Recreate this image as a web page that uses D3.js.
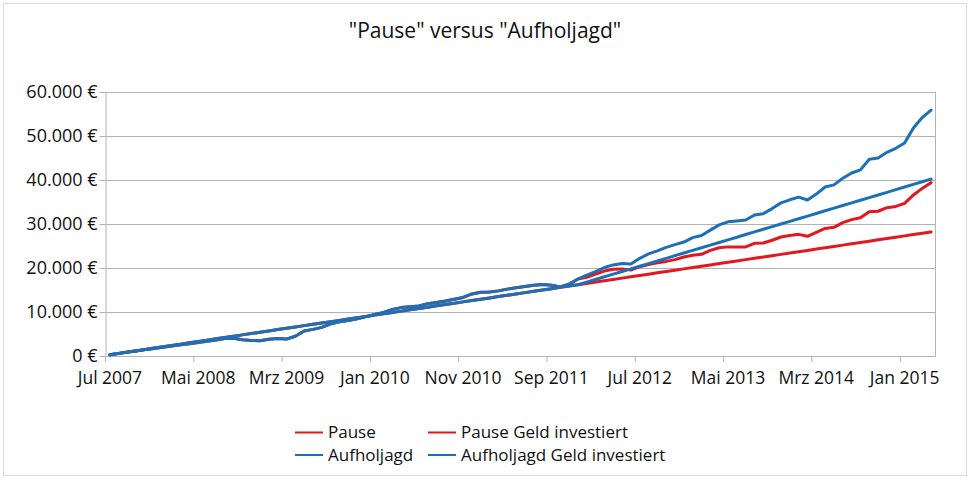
<!DOCTYPE html>
<html><head><meta charset="utf-8">
<script src="https://cdn.jsdelivr.net/npm/d3@7"></script>
<style>
body{margin:0;background:#fff}
svg{display:block}
text{font-family:"Open Sans","Noto Sans",sans-serif;fill:#111}
</style>
</head><body>
<svg id="chart" width="975" height="480"></svg>
<script>
// ---------- data ----------
const title = '"Pause" versus "Aufholjagd"';
const monthNames = ["Jan","Feb","Mrz","Apr","Mai","Jun","Jul","Aug","Sep","Okt","Nov","Dez"];
const startYear = 2007, startMonthIndex = 6, monthCount = 94;
const categories = d3.range(monthCount).map(i => {
  const m = startMonthIndex + i;
  return monthNames[m % 12] + " " + (startYear + Math.floor(m / 12));
});
const labelEvery = 10;

const pauseWert = [
  300,590,880,1160,1450,1720,2000,2250,2550,2800,
  3050,3350,3650,3950,4050,3700,3550,3480,3800,4000,
  3850,4500,5700,6050,6500,7300,7800,8050,8450,8950,
  9450,9900,10600,11000,11200,11350,11900,12150,12500,12900,
  13300,14100,14500,14550,14800,15200,15500,15800,16100,16250,
  16100,15700,16300,17500,17900,18600,19300,19700,19800,19550,
  20300,20800,21200,21500,21900,22500,22900,23100,24000,24600,
  24800,24800,24800,25600,25680,26300,27050,27400,27650,27200,
  28100,29000,29250,30300,31000,31400,32800,32900,33700,34000,
  34700,36600,38100,39400
];
const pauseInvestiert = [
  300,600,900,1200,1500,1800,2100,2400,2700,3000,
  3300,3600,3900,4200,4500,4800,5100,5400,5700,6000,
  6300,6600,6900,7200,7500,7800,8100,8400,8700,9000,
  9300,9600,9900,10200,10500,10800,11100,11400,11700,12000,
  12300,12600,12900,13200,13500,13800,14100,14400,14700,15000,
  15300,15600,15900,16200,16500,16800,17100,17400,17700,18000,
  18300,18600,18900,19200,19500,19800,20100,20400,20700,21000,
  21300,21600,21900,22200,22500,22800,23100,23400,23700,24000,
  24300,24600,24900,25200,25500,25800,26100,26400,26700,27000,
  27300,27600,27900,28200
];
const aufholjagdWert = [
  300,590,880,1160,1450,1720,2000,2250,2550,2800,
  3050,3350,3650,3950,4050,3700,3550,3480,3800,4000,
  3850,4500,5700,6050,6500,7300,7800,8050,8450,8950,
  9450,9900,10600,11000,11200,11350,11900,12150,12500,12900,
  13300,14100,14500,14550,14800,15200,15500,15800,16100,16250,
  16100,15700,16300,17500,18400,19200,20100,20700,21000,20900,
  22200,23200,23900,24700,25300,25900,26900,27400,28600,29800,
  30500,30700,30900,32050,32350,33500,34800,35500,36100,35450,
  36800,38400,38900,40400,41600,42300,44700,45000,46300,47200,
  48400,51800,54200,55900
];
const aufholjagdInvestiert = [
  300,600,900,1200,1500,1800,2100,2400,2700,3000,
  3300,3600,3900,4200,4500,4800,5100,5400,5700,6000,
  6300,6600,6900,7200,7500,7800,8100,8400,8700,9000,
  9300,9600,9900,10200,10500,10800,11100,11400,11700,12000,
  12300,12600,12900,13200,13500,13800,14100,14400,14700,15000,
  15300,15600,15900,16200,16800,17400,18000,18600,19200,19800,
  20400,21000,21600,22200,22800,23400,24000,24600,25200,25800,
  26400,27000,27600,28200,28800,29400,30000,30600,31200,31800,
  32400,33000,33600,34200,34800,35400,36000,36600,37200,37800,
  38400,39000,39600,40200
];
const yTicks = [0,10000,20000,30000,40000,50000,60000];

const seriesNames = ["Pause","Pause Geld investiert","Aufholjagd","Aufholjagd Geld investiert"];
const seriesColors = ["#e2171f","#e2171f","#1b70b7","#1b70b7"];
const seriesData = [pauseWert, pauseInvestiert, aufholjagdWert, aufholjagdInvestiert];

// ---------- layout ----------
const svg = d3.select("#chart");
const plotLeft = 105.5, plotRight = 935.5, plotTop = 92, plotBottom = 356;
const gridColor = "#b3b3b3";

svg.append("rect").attr("x",3.5).attr("y",3.5).attr("width",963).attr("height",472)
  .attr("fill","none").attr("stroke","#d9d9d9");

const x = d3.scaleBand().domain(categories).range([plotLeft, plotRight]).padding(0);
const y = d3.scaleLinear().domain([0, 60000]).range([plotBottom, plotTop]);

const fmt = v => d3.format(",")(v).replace(/,/g, ".") + " €";

// gridlines
svg.append("g").selectAll("line").data(yTicks).join("line")
  .attr("x1", plotLeft).attr("x2", plotRight)
  .attr("y1", d => Math.round(y(d)) + 0.5).attr("y2", d => Math.round(y(d)) + 0.5)
  .attr("stroke", gridColor);
svg.append("line").attr("x1", plotRight).attr("x2", plotRight).attr("y1", plotTop).attr("y2", plotBottom)
  .attr("stroke", gridColor);

// y axis
const yAxis = d3.axisLeft(y).tickValues(yTicks).tickSize(6).tickPadding(3).tickFormat(fmt);
const gy = svg.append("g").attr("transform", `translate(${plotLeft},0)`).call(yAxis);
gy.select(".domain").attr("stroke", gridColor);
gy.selectAll(".tick line").attr("stroke", gridColor);
gy.selectAll(".tick text").attr("font-size", 18).attr("fill","#111")
  .attr("font-family",'"Open Sans","Noto Sans",sans-serif').attr("x",-8).attr("dy","0.3em");

// x axis: ticks between categories, labels centered
const labelCats = categories.filter((c, i) => i % labelEvery === 0);
svg.append("line").attr("x1", plotLeft).attr("x2", plotRight)
  .attr("y1", plotBottom + 0.5).attr("y2", plotBottom + 0.5).attr("stroke", gridColor);
const gx = svg.append("g");
gx.selectAll("line.tk").data(labelCats).join("line").attr("class","tk")
  .attr("x1", d => x(d)).attr("x2", d => x(d)).attr("y1", plotBottom).attr("y2", plotBottom + 6)
  .attr("stroke", gridColor);
gx.selectAll("text").data(labelCats).join("text")
  .attr("x", d => x(d) + x.bandwidth() / 2).attr("y", 384)
  .attr("text-anchor","middle").attr("font-size", 17.5).text(d => d);

// lines
const line = d3.line().x((d, i) => x(categories[i]) + x.bandwidth() / 2).y(d => y(d));
svg.append("g").selectAll("path").data(seriesData).join("path")
  .attr("d", d => line(d)).attr("fill","none")
  .attr("stroke", (d, i) => seriesColors[i]).attr("stroke-width", 3)
  .attr("stroke-linejoin","round").attr("stroke-linecap","round");

// title
svg.append("text").attr("x", 485).attr("y", 38).attr("text-anchor","middle")
  .attr("font-size", 21).text(title);

// legend
const legendItems = [
  {name: seriesNames[0], color: seriesColors[0], x: 295, y: 432.5},
  {name: seriesNames[1], color: seriesColors[1], x: 428, y: 432.5},
  {name: seriesNames[2], color: seriesColors[2], x: 295, y: 455},
  {name: seriesNames[3], color: seriesColors[3], x: 428, y: 455}
];
const lg = svg.append("g").selectAll("g").data(legendItems).join("g")
  .attr("transform", d => `translate(${d.x},${d.y})`);
lg.append("line").attr("x1",0).attr("x2",28).attr("stroke", d => d.color).attr("stroke-width",2);
lg.append("text").attr("x",33).attr("dy","0.35em").attr("font-size",17).text(d => d.name);
</script>
</body></html>
